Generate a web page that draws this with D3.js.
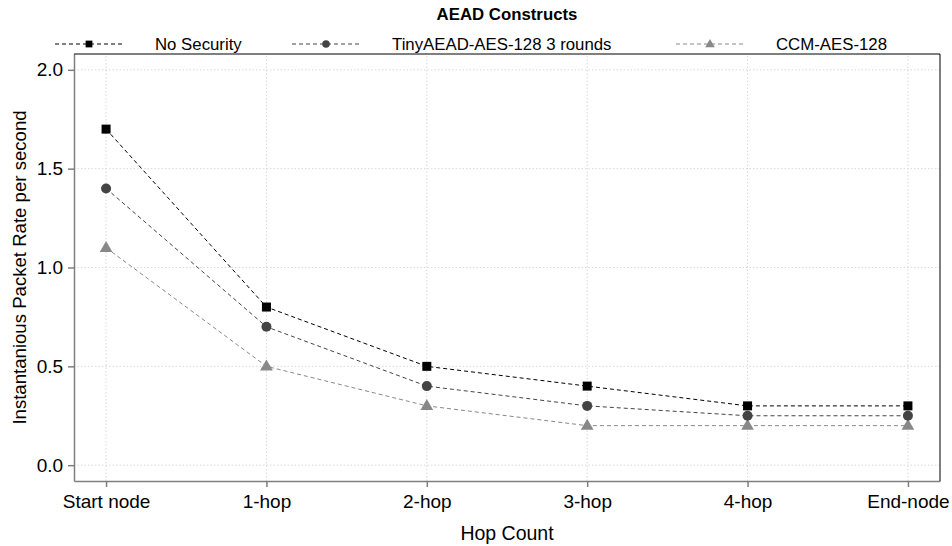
<!DOCTYPE html>
<html>
<head>
<meta charset="utf-8">
<script src="https://cdn.jsdelivr.net/npm/d3@7"></script>
<style>
	body { margin: 0; background: #fff; }
	text { font-family: "Liberation Sans", Arial, sans-serif; }
</style>
</head>
<body>
<div id="chart"></div>
<script>
var hops = ['Start node', '1-hop', '2-hop', '3-hop', '4-hop', 'End-node'];
var seriesNames = ['No Security', 'TinyAEAD-AES-128 3 rounds', 'CCM-AES-128'];
var noSecurity = [1.7, 0.8, 0.5, 0.4, 0.3, 0.3];
var tinyAead = [1.4, 0.7, 0.4, 0.3, 0.25, 0.25];
var ccmAes = [1.1, 0.5, 0.3, 0.2, 0.2, 0.2];
var yTicks = [0, 0.5, 1.0, 1.5, 2.0];

var width = 952, height = 546;
var margin = { left: 74, right: 12, top: 54, bottom: 65 };

var series = [
	{ name: seriesNames[0], values: noSecurity, color: '#000000', shape: 'square' },
	{ name: seriesNames[1], values: tinyAead, color: '#444444', shape: 'circle' },
	{ name: seriesNames[2], values: ccmAes, color: '#888888', shape: 'triangle' }
];

var svg = d3.select('#chart').append('svg')
	.attr('width', width)
	.attr('height', height);

var x = d3.scaleLinear()
	.domain([-0.2, hops.length - 1 + 0.2])
	.range([margin.left, width - margin.right]);
var y = d3.scaleLinear()
	.domain([-0.08, 2.08])
	.range([height - margin.bottom, margin.top]);

// grid
var grid = svg.append('g');
grid.selectAll('line.gy').data(yTicks).enter().append('line')
	.attr('x1', x.range()[0]).attr('x2', x.range()[1])
	.attr('y1', function(d) { return y(d); }).attr('y2', function(d) { return y(d); })
	.attr('stroke', '#d9d9d9').attr('stroke-dasharray', '1.5,2');
grid.selectAll('line.gx').data(hops).enter().append('line')
	.attr('x1', function(d, i) { return x(i); }).attr('x2', function(d, i) { return x(i); })
	.attr('y1', y.range()[0]).attr('y2', y.range()[1])
	.attr('stroke', '#d9d9d9').attr('stroke-dasharray', '1.5,2');

// axes
var xAxis = d3.axisBottom(x)
	.tickValues(d3.range(hops.length))
	.tickFormat(function(d) { return hops[d]; })
	.tickSize(6).tickSizeOuter(0);
var yAxis = d3.axisLeft(y)
	.tickValues(yTicks)
	.tickFormat(d3.format('.1f'))
	.tickSize(6).tickSizeOuter(0);

var gx = svg.append('g')
	.attr('transform', 'translate(0,' + (height - margin.bottom) + ')')
	.call(xAxis);
var gy = svg.append('g')
	.attr('transform', 'translate(' + margin.left + ',0)')
	.call(yAxis);
[gx, gy].forEach(function(g) {
	g.select('.domain').attr('stroke', '#7f7f7f').attr('stroke-width', 1.5);
	g.selectAll('.tick line').attr('stroke', '#7f7f7f').attr('stroke-width', 1.5);
	g.selectAll('.tick text')
		.attr('fill', '#000')
		.style('font-size', '19px')
		.style('font-family', '"Liberation Sans", Arial, sans-serif');
});
gx.selectAll('.tick text').attr('dy', '0.95em');
gy.selectAll('.tick text').attr('dx', '-0.1em');

// top and right border
svg.append('path')
	.attr('d', 'M' + x.range()[0] + ',' + y.range()[1] + 'H' + x.range()[1] + 'V' + y.range()[0])
	.attr('fill', 'none').attr('stroke', '#000').attr('stroke-width', 1);

// lines
var line = d3.line()
	.x(function(d, i) { return x(i); })
	.y(function(d) { return y(d); });

function drawMarker(g, shape, color, cx, cy, k) {
	k = k || 1;
	if (shape === 'square') {
		g.append('rect').attr('x', cx - 4.5 * k).attr('y', cy - 4.5 * k)
			.attr('width', 9 * k).attr('height', 9 * k).attr('fill', color);
	} else if (shape === 'circle') {
		g.append('circle').attr('cx', cx).attr('cy', cy).attr('r', 5 * k).attr('fill', color);
	} else {
		g.append('path')
			.attr('d', d3.symbol().type(d3.symbolTriangle).size(70 * k * k)())
			.attr('transform', 'translate(' + cx + ',' + (cy + 0.5) + ')')
			.attr('fill', color);
	}
}

series.slice().reverse().forEach(function(s) {
	var g = svg.append('g');
	g.append('path')
		.datum(s.values)
		.attr('d', line)
		.attr('fill', 'none')
		.attr('stroke', s.color)
		.attr('stroke-width', 1)
		.attr('stroke-dasharray', '4,3');
	s.values.forEach(function(v, i) {
		drawMarker(g, s.shape, s.color, x(i), y(v));
	});
});

// title
svg.append('text')
	.attr('x', 507).attr('y', 20)
	.attr('text-anchor', 'middle')
	.style('font-size', '16.8px').style('font-weight', 'bold')
	.text('AEAD Constructs');

// legend
var legendX = [55, 292, 676];
var legend = svg.selectAll('g.legend').data(series).enter().append('g')
	.attr('transform', function(d, i) { return 'translate(' + legendX[i] + ',44)'; });
legend.append('line')
	.attr('x1', 0).attr('x2', 68)
	.attr('stroke', function(d) { return d.color; })
	.attr('stroke-dasharray', '4,3');
legend.each(function(d) { drawMarker(d3.select(this), d.shape, d.color, 34, 0, 0.75); });
legend.append('text')
	.attr('x', 100).attr('y', 6)
	.style('font-size', '16.8px')
	.text(function(d) { return d.name; });

// axis titles
svg.append('text')
	.attr('x', (x.range()[0] + x.range()[1]) / 2).attr('y', 540)
	.attr('text-anchor', 'middle')
	.style('font-size', '19.5px')
	.text('Hop Count');
svg.append('text')
	.attr('transform', 'translate(26,' + ((y.range()[0] + y.range()[1]) / 2) + ') rotate(-90)')
	.attr('text-anchor', 'middle')
	.style('font-size', '18.6px')
	.text('Instantanious Packet Rate per second');
</script>
</body>
</html>
